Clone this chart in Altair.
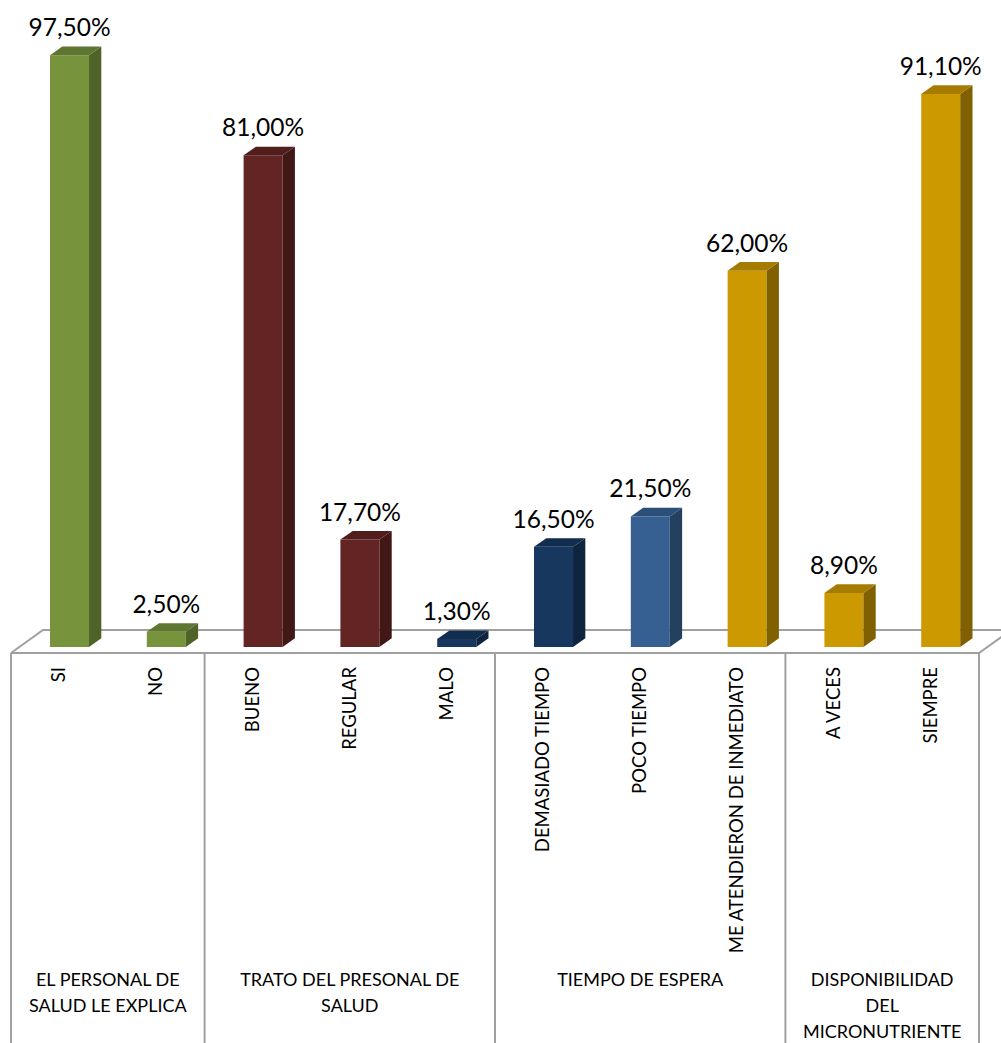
import altair as alt
import pandas as pd

# ---- data ----
categories = ["SI", "NO", "BUENO", "REGULAR", "MALO", "DEMASIADO TIEMPO",
              "POCO TIEMPO", "ME ATENDIERON DE INMEDIATO", "A VECES", "SIEMPRE"]
values = [97.5, 2.5, 81.0, 17.7, 1.3, 16.5, 21.5, 62.0, 8.9, 91.1]
groups = ["EL PERSONAL DE\nSALUD LE EXPLICA", "TRATO DEL PRESONAL DE\nSALUD",
          "TIEMPO DE ESPERA", "DISPONIBILIDAD\nDEL\nMICRONUTRIENTE"]
group_sizes = [2, 3, 3, 2]

front_colors = ["#77933C", "#77933C", "#632523", "#632523", "#17375E",
                "#17375E", "#376092", "#CC9900", "#CC9900", "#CC9900"]
side_colors = ["#4F6228", "#4F6228", "#421816", "#421816", "#0F243F",
               "#0F243F", "#244061", "#806000", "#806000", "#806000"]
top_colors = ["#5F7630", "#5F7630", "#521E1C", "#521E1C", "#132D4E",
              "#132D4E", "#2C4F7A", "#A67C00", "#A67C00", "#A67C00"]

# ---- styling / layout constants ----
W, H = 1001, 1043
PX_U = 96.8          # pixels per category slot
PX_V = 6.07          # pixels per percentage point
X0, Y0 = 11, 647     # pixel position of slot 0 / value 0
BAR_L, BAR_R = 0.403, 0.806
DU, DV = 0.127, 1.43
FLOOR_FRONT, FLOOR_BACK, FLOOR_DU = -0.99, 2.80, 0.33
FONT = "Lato"
GRID = "#A0A0A0"

x_scale = alt.Scale(domain=[-X0 / PX_U, (W - X0) / PX_U], nice=False, zero=False)
y_scale = alt.Scale(domain=[(Y0 - H) / PX_V, Y0 / PX_V], nice=False, zero=False)

n = len(values)

# front faces
front = pd.DataFrame({
    "cat": categories,
    "xl": [i + BAR_L for i in range(n)],
    "xr": [i + BAR_R for i in range(n)],
    "v": values,
    "c": front_colors,
    "lab": [f"{v:.2f}".replace(".", ",") + "%" for v in values],
    "xc": [i + (BAR_L + BAR_R) / 2 for i in range(n)],
    "xt": [i + 0.5 for i in range(n)],
})

# side and top faces (parallelograms) derived from values
side_rows, top_rows = [], []
for i, v in enumerate(values):
    xl, xr = i + BAR_L, i + BAR_R
    side_rows += [
        {"id": i, "u": xr, "lo": 0, "hi": v, "c": side_colors[i]},
        {"id": i, "u": xr + DU, "lo": DV, "hi": v + DV, "c": side_colors[i]},
    ]
    top_rows += [
        {"id": i, "u": xl, "lo": v, "hi": v, "c": top_colors[i]},
        {"id": i, "u": xl + DU, "lo": v, "hi": v + DV, "c": top_colors[i]},
        {"id": i, "u": xr, "lo": v, "hi": v + DV, "c": top_colors[i]},
        {"id": i, "u": xr + DU, "lo": v + DV, "hi": v + DV, "c": top_colors[i]},
    ]
side = pd.DataFrame(side_rows)
top = pd.DataFrame(top_rows)

# floor outline
floor = pd.DataFrame({
    "k": [0, 1, 2, 3, 4],
    "u": [0, FLOOR_DU, n + FLOOR_DU, n, 0],
    "v": [FLOOR_FRONT, FLOOR_BACK, FLOOR_BACK, FLOOR_FRONT, FLOOR_FRONT],
})

# group separators and labels
bounds = [0]
for s in group_sizes:
    bounds.append(bounds[-1] + s)
seps = pd.DataFrame({"u": bounds, "v": [FLOOR_FRONT] * len(bounds)})
glab = pd.DataFrame({
    "g": groups,
    "u": [(bounds[k] + bounds[k + 1]) / 2 for k in range(len(groups))],
})

X = lambda f: alt.X(f, scale=x_scale, axis=None)
Y = lambda f: alt.Y(f, scale=y_scale, axis=None)

floor_layer = alt.Chart(floor).mark_line(color=GRID, strokeWidth=2, clip=True).encode(
    x=X("u:Q"), y=Y("v:Q"), order="k:Q")

sep_layer = alt.Chart(seps).mark_rule(color=GRID, strokeWidth=2).encode(
    x=X("u:Q"), y=Y("v:Q"), y2=alt.value(H))

front_layer = alt.Chart(front).mark_rect().encode(
    x=X("xl:Q"), x2="xr:Q", y=Y("v:Q"), y2=alt.datum(0),
    color=alt.Color("c:N", scale=None))

side_layer = alt.Chart(side).mark_area(interpolate="linear").encode(
    x=X("u:Q"), y=Y("lo:Q"), y2="hi:Q", detail="id:N",
    color=alt.Color("c:N", scale=None))

top_layer = alt.Chart(top).mark_area(interpolate="linear").encode(
    x=X("u:Q"), y=Y("lo:Q"), y2="hi:Q", detail="id:N",
    color=alt.Color("c:N", scale=None))

value_labels = alt.Chart(front).mark_text(
    font=FONT, fontSize=24.5, color="#000000", baseline="alphabetic", dy=-19
).encode(x=X("xc:Q"), y=Y("v:Q"), text="lab:N")

tick_labels = alt.Chart(front).mark_text(
    font=FONT, fontSize=18.5, color="#000000", angle=270, align="right",
    baseline="middle"
).encode(x=X("xt:Q"), y=alt.value(667), text="cat:N")

group_labels = alt.Chart(glab).mark_text(
    font=FONT, fontSize=18, color="#000000", align="center", baseline="top",
    lineBreak="\n", lineHeight=26
).encode(x=X("u:Q"), y=alt.value(972), text="g:N")

chart = alt.layer(
    floor_layer, sep_layer, front_layer, side_layer, top_layer,
    value_labels, tick_labels, group_labels
).properties(
    width=W, height=H, padding=0, autosize=alt.AutoSizeParams(type="none"),
    background="white"
).configure_view(stroke=None)

chart.save("out.html", embed_options={"renderer": "svg", "actions": False})
